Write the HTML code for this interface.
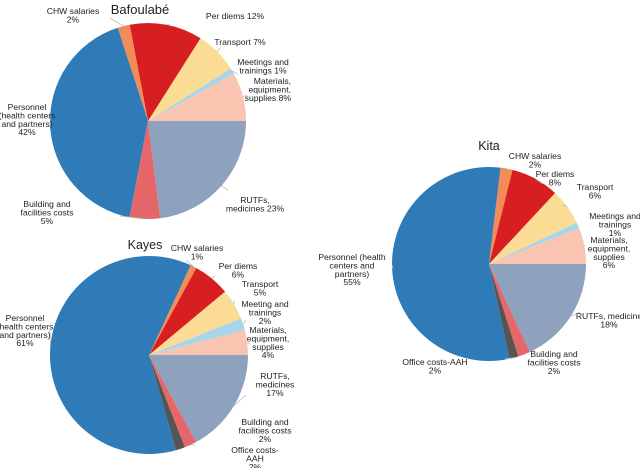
<!DOCTYPE html>
<html><head><meta charset="utf-8"><style>
html,body{margin:0;padding:0;background:#fff;}
svg{display:block;font-family:"Liberation Sans",Arial,sans-serif;}
</style></head><body>
<svg id="chart" width="640" height="468" viewBox="0 0 640 468">
<text x="140" y="14" font-size="13" text-anchor="middle" fill="#222">Bafoulabé</text>
<text x="145" y="249" font-size="12.5" text-anchor="middle" fill="#222">Kayes</text>
<text x="489" y="150" font-size="12.5" text-anchor="middle" fill="#222">Kita</text>
</svg>
<script>
// Slice order: counterclockwise from 3 o'clock
const categories = ["Materials, equipment, supplies","Meetings and trainings","Transport","Per diems","CHW salaries","Personnel","Office costs-AAH","Building and facilities costs","RUTFs, medicines"];
const colors = ["#f9c5b0","#a8d5e8","#fbdc95","#d71f22","#f28b57","#2e7bb8","#555555","#e5676a","#8fa2bd"];
const bafoulabeValues = [8,1,7,12,2,42,0,5,23];
const kayesValues = [4,2,5,6,1,61,1.5,2,17];
const kitaValues = [6,1,6,8,2,55,1.5,2,18];

const bafoulabeLabels = [
 {i:0,lines:["Materials,","equipment,","supplies 8%"],x:291,y:84,a:"end",ax:247,ay:95},
 {i:1,lines:["Meetings and","trainings 1%"],x:263,y:65,a:"middle",ax:238,ay:74},
 {i:2,lines:["Transport 7%"],x:240,y:45,a:"middle",ax:220,ay:48},
 {i:3,lines:["Per diems 12%"],x:235,y:19,a:"middle",ax:170,ay:24},
 {i:4,lines:["CHW salaries","2%"],x:73,y:14,a:"middle",ax:110,ay:18},
 {i:5,lines:["Personnel","(health centers","and partners)","42%"],x:27,y:110,a:"middle",ax:50,ay:113},
 {i:7,lines:["Building and","facilities costs","5%"],x:47,y:207,a:"middle",ax:120,ay:216},
 {i:8,lines:["RUTFs,","medicines 23%"],x:255,y:203,a:"middle",ax:228,ay:190}
];
const kayesLabels = [
 {i:0,lines:["Materials,","equipment,","supplies","4%"],x:268,y:333,a:"middle",ax:250,ay:344},
 {i:1,lines:["Meeting and","trainings","2%"],x:265,y:307,a:"middle",ax:246,ay:320},
 {i:2,lines:["Transport","5%"],x:260,y:287,a:"middle",ax:234,ay:300},
 {i:3,lines:["Per diems","6%"],x:238,y:269,a:"middle",ax:215,ay:276},
 {i:4,lines:["CHW salaries","1%"],x:197,y:251,a:"middle",ax:186,ay:260},
 {i:5,lines:["Personnel","(health centers","and partners)","61%"],x:25,y:321,a:"middle",ax:50,ay:330},
 {i:6,lines:["Office costs-","AAH","2%"],x:255,y:453,a:"middle",ax:180,ay:450},
 {i:7,lines:["Building and","facilities costs","2%"],x:265,y:425,a:"middle",ax:195,ay:445},
 {i:8,lines:["RUTFs,","medicines","17%"],x:275,y:379,a:"middle",ax:246,ay:395}
];
const kitaLabels = [
 {i:0,lines:["Materials,","equipment,","supplies","6%"],x:609,y:243,a:"middle",ax:585,ay:245},
 {i:1,lines:["Meetings and","trainings","1%"],x:615,y:219,a:"middle",ax:578,ay:225},
 {i:2,lines:["Transport","6%"],x:595,y:190,a:"middle",ax:563,ay:205},
 {i:3,lines:["Per diems","8%"],x:555,y:177,a:"middle",ax:543,ay:184},
 {i:4,lines:["CHW salaries","2%"],x:535,y:159,a:"middle",ax:508,ay:170},
 {i:5,lines:["Personnel (health","centers and","partners)","55%"],x:352,y:260,a:"middle",ax:393,ay:265},
 {i:6,lines:["Office costs-AAH","2%"],x:435,y:365,a:"middle",ax:505,ay:359},
 {i:7,lines:["Building and","facilities costs","2%"],x:554,y:357,a:"middle",ax:523,ay:355},
 {i:8,lines:["RUTFs, medicine","18%"],x:609,y:319,a:"middle",ax:580,ay:312}
];

const NS="http://www.w3.org/2000/svg";
const svg=document.getElementById("chart");
function pt(cx,cy,r,deg){const a=deg*Math.PI/180;return [cx+r*Math.cos(a),cy-r*Math.sin(a)];}
function drawPie(name,values,cx,cy,r,labels){
  const total=values.reduce((a,b)=>a+b,0);
  const g=document.createElementNS(NS,"g");
  
  
  svg.appendChild(g);
  let start=0; const mids=[];
  values.forEach((v,i)=>{
    const sweep=v/total*360; const end=start+sweep;
    mids.push(start+sweep/2);
    if(v>0){
      const p1=pt(cx,cy,r,start),p2=pt(cx,cy,r,end);
      const path=document.createElementNS(NS,"path");
      path.setAttribute("d",`M${cx},${cy}L${p1[0]},${p1[1]}A${r},${r} 0 ${sweep>180?1:0} 0 ${p2[0]},${p2[1]}Z`);
      path.setAttribute("fill",colors[i]);
      
      
      g.appendChild(path);
    }
    start=end;
  });
  labels.forEach(L=>{
    const e=pt(cx,cy,r,mids[L.i]);
    const ln=document.createElementNS(NS,"line");
    ln.setAttribute("x1",e[0]);ln.setAttribute("y1",e[1]);
    ln.setAttribute("x2",L.ax);ln.setAttribute("y2",L.ay);
    ln.setAttribute("stroke","#bbb");ln.setAttribute("stroke-width","0.8");
    
    
    g.appendChild(ln);
    const t=document.createElementNS(NS,"text");
    t.setAttribute("x",L.x);t.setAttribute("y",L.y);
    t.setAttribute("font-size","8.6");t.setAttribute("fill","#222");
    t.setAttribute("text-anchor",L.a);
    
    
    L.lines.forEach((s,k)=>{
      const ts=document.createElementNS(NS,"tspan");
      ts.setAttribute("x",L.x);ts.setAttribute("dy",k?8.4:0);
      ts.textContent=s;t.appendChild(ts);
    });
    g.appendChild(t);
  });
}
drawPie("bafoulabe",bafoulabeValues,148,121,98,bafoulabeLabels);
drawPie("kayes",kayesValues,149,355,99,kayesLabels);
drawPie("kita",kitaValues,489,264,97,kitaLabels);
</script>
</body></html>
